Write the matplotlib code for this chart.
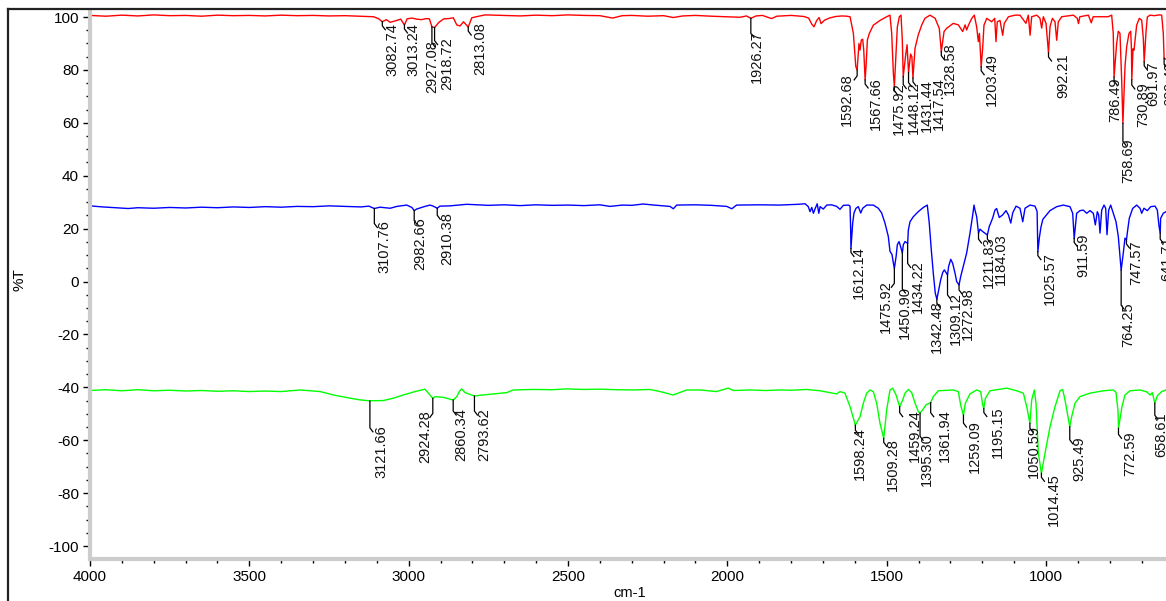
import numpy as np
import matplotlib
matplotlib.use("Agg")
import matplotlib.pyplot as plt
from matplotlib.ticker import MultipleLocator
from matplotlib.lines import Line2D

# ---------------- data ----------------
red_wn = [4000, 3950, 3900, 3850, 3800, 3750, 3700, 3650, 3600, 3550, 3500, 3450, 3400, 3350, 3300, 3250, 3200, 3150,
          3110, 3095, 3082.74, 3070, 3058, 3040, 3025, 3013.24, 3005, 2990, 2975, 2960, 2945, 2935, 2927.08, 2918.72,
          2905, 2890, 2875, 2860, 2849, 2839, 2828, 2813.08, 2802, 2780, 2760, 2700, 2650, 2600, 2550, 2500, 2450,
          2400, 2360, 2330, 2300, 2250, 2200, 2170, 2140, 2100, 2050, 2000, 1960, 1940, 1926.27, 1910, 1890, 1870,
          1861, 1845, 1800, 1760, 1745, 1735, 1728, 1720, 1712, 1706, 1695, 1680, 1660, 1640, 1625, 1615, 1604.5,
          1597, 1592.68, 1590, 1587, 1583.7, 1579.6, 1575.3, 1572, 1567.66, 1564.8, 1560.6, 1554.4, 1542, 1521, 1500,
          1489.6, 1484.3, 1479, 1475.92, 1471.8, 1466.6, 1460.3, 1455, 1451, 1448.12, 1440, 1436, 1431.44, 1425,
          1421, 1417.54, 1411, 1401, 1390, 1380, 1364, 1348, 1335, 1328.58, 1320, 1312, 1291, 1275, 1261.5, 1254,
          1249, 1243, 1233, 1225, 1217.6, 1212.4, 1209, 1203.49, 1198.8, 1194.7, 1186, 1170.6, 1161, 1157, 1153,
          1144.4, 1136, 1131, 1118, 1097, 1081.7, 1063, 1055.6, 1050, 1045, 1029, 1019, 1013.6, 1008.5, 1000,
          992.21, 987.5, 980, 971.8, 966.5, 961.4, 950.8, 914, 902, 898, 894, 867, 858, 852, 825, 805, 794, 789,
          786.49, 778.3, 773.2, 767.9, 762.6, 758.69, 752.2, 746.9, 739.6, 734.3, 731.8, 730.89, 727, 723.9, 715.6,
          707.2, 699.8, 694.7, 691.97, 686.2, 682.1, 673.7, 660, 645, 637, 632, 629.43, 623]
red_t = [100.6, 100.3, 100.7, 100.4, 100.8, 100.5, 100.6, 100.3, 100.7, 100.5, 100.6, 100.4, 100.7, 100.5, 100.6,
         100.4, 100.5, 100.3, 100.1, 99.4, 98.2, 99.0, 98.0, 98.6, 99.2, 97.0, 99.3, 99.6, 99.2, 99.0, 99.4, 99.3,
         96.3, 96.0, 98.0, 99.3, 99.4, 99.7, 97.0, 96.6, 98.2, 96.2, 99.7, 100.3, 100.8, 100.6, 100.4, 100.7, 100.5,
         100.8, 100.6, 100.5, 99.6, 100.5, 100.6, 100.3, 100.5, 99.8, 100.4, 100.6, 100.3, 100.1, 99.9, 100.4, 99.5,
         100.4, 100.6, 99.8, 99.4, 100.3, 100.6, 100.2, 99.6, 97.3, 96.3, 98.6, 99.8, 97.5, 98.8, 99.6, 100.2, 100.4,
         100.3, 100.1, 93.8, 81.3, 80.0, 85.0, 90.0, 87.5, 91.3, 91.6, 87.5, 76.2, 81.3, 91.3, 93.8, 96.9, 98.7,
         100.1, 100.7, 93.8, 78.7, 73.7, 83.7, 96.2, 100.1, 100.7, 91.3, 77.5, 86.0, 89.5, 79.0, 86.0, 85.0, 77.0,
         88.2, 93.2, 97.0, 99.5, 100.7, 99.5, 95.7, 86.9, 94.5, 95.7, 97.6, 97.0, 94.5, 97.0, 95.1, 97.0, 99.5,
         100.7, 96.2, 90.7, 93.8, 81.2, 88.2, 96.9, 99.5, 98.2, 99.5, 90.7, 98.2, 98.7, 93.1, 97.6, 100.1, 100.7,
         100.7, 97.6, 100.7, 93.1, 100.1, 100.7, 99.5, 95.8, 100.1, 97.6, 86.4, 96.3, 99.5, 98.2, 91.2, 98.2, 100.1,
         100.7, 99.5, 97.5, 100.1, 100.7, 97.8, 100.1, 100.1, 100.1, 100.7, 93.8, 77.3, 90.0, 94.6, 93.8, 76.2,
         59.8, 81.2, 88.8, 93.8, 94.6, 87.5, 76.2, 88.0, 87.5, 96.9, 99.5, 98.8, 91.9, 83.1, 94.4, 100.0, 100.7,
         100.5, 100.8, 100.7, 93.8, 84.4, 84.0]

blue_wn = [4000, 3960, 3920, 3880, 3850, 3800, 3750, 3700, 3650, 3600, 3550, 3500, 3450, 3400, 3350, 3300, 3250,
           3200, 3150, 3125, 3107.76, 3090, 3058, 3037, 3006, 2990, 2982.66, 2975, 2949, 2933, 2923, 2910.38, 2902,
           2870, 2818, 2750, 2700, 2650, 2600, 2550, 2500, 2450, 2400, 2368, 2330, 2300, 2264, 2230, 2180, 2169.5,
           2159, 2100, 2050, 2002, 1986, 1971, 1900, 1835, 1777, 1756, 1746, 1740.6, 1735, 1730, 1724, 1718, 1713,
           1709, 1699, 1688, 1673, 1657, 1646.5, 1636, 1620, 1615, 1613, 1612.14, 1608.8, 1606.7, 1602.6, 1596.3,
           1589, 1581.5, 1575.3, 1562.7, 1542, 1526.3, 1515.8, 1505.4, 1495, 1489.6, 1483.3, 1479, 1475.92, 1470.5,
           1466.6, 1461.3, 1458, 1450.9, 1447.8, 1442.5, 1434.22, 1432, 1426.8, 1416.4, 1401, 1385, 1372.6, 1366.4,
           1360, 1353.8, 1347.5, 1342.48, 1336.8, 1330.6, 1324.3, 1319, 1313.7, 1309.12, 1305.6, 1299, 1293, 1285.6,
           1280.4, 1272.98, 1267.7, 1259.6, 1249, 1238.6, 1230, 1226, 1222.9, 1217.6, 1211.83, 1207.2, 1198.8,
           1184.03, 1178.3, 1167.7, 1160.3, 1155, 1146.7, 1136, 1125.6, 1118, 1110.6, 1104.4, 1094, 1081.7, 1073,
           1065.9, 1050, 1034.6, 1028, 1025.57, 1021, 1016, 1010, 1003.3, 987.5, 966.5, 945.8, 924.8, 916.3, 911.59,
           908, 903.8, 893.4, 883, 872.4, 862, 851.6, 845.3, 839, 834.8, 830.6, 825.3, 818, 812.8, 808.6, 803.4,
           797.1, 788.8, 780.4, 773.2, 767.9, 764.25, 757.5, 752.2, 747.57, 745, 738.7, 728.2, 715.6, 705.1, 699.8,
           692.6, 682.1, 671.6, 658, 650.7, 645.5, 641.71, 640.3, 632, 623.5]
blue_t = [28.6, 28.2, 27.9, 27.6, 27.9, 27.7, 28.0, 27.8, 28.1, 27.9, 28.2, 28.0, 28.3, 28.1, 28.4, 28.3, 28.6,
          28.4, 28.2, 28.5, 27.6, 28.1, 27.7, 28.4, 28.9, 28.0, 26.8, 27.4, 28.4, 28.9, 28.5, 27.7, 28.5, 28.6, 29.2,
          28.8, 29.0, 28.7, 29.0, 28.8, 28.9, 28.7, 29.0, 28.4, 28.9, 28.8, 29.3, 28.9, 28.4, 27.5, 28.9, 29.0, 28.8,
          28.4, 27.5, 28.9, 29.0, 28.9, 29.2, 29.4, 28.3, 26.4, 28.0, 25.8, 27.7, 29.4, 25.8, 28.3, 27.4, 28.9, 29.0,
          28.4, 27.3, 28.8, 28.9, 28.5, 19.5, 12.5, 18.3, 22.1, 25.9, 27.7, 28.3, 25.9, 27.7, 28.9, 28.9, 27.7, 25.9,
          22.1, 17.1, 11.4, 10.2, 7.0, 5.0, 9.4, 13.9, 15.1, 13.9, 10.8, 13.9, 15.1, 14.4, 19.5, 22.6, 24.5, 26.4,
          28.0, 28.9, 22.1, 12.0, 3.2, -4.4, -6.7, -3.2, 0.6, 3.4, 4.4, 3.4, 2.5, 5.7, 8.4, 6.9, 3.2, 0.0, -1.3, 1.9,
          5.7, 10.8, 18.3, 25.2, 28.9, 27.0, 24.5, 18.3, 19.8, 18.9, 17.6, 20.7, 23.9, 27.0, 27.6, 24.2, 25.2, 26.8,
          25.2, 22.1, 26.0, 28.5, 27.7, 22.6, 27.7, 28.9, 28.5, 26.5, 11.3, 16.5, 20.5, 23.5, 24.5, 26.8, 28.3, 28.9,
          28.3, 25.8, 16.3, 20.7, 25.8, 26.8, 27.0, 25.8, 26.8, 25.8, 21.4, 26.4, 25.2, 18.3, 27.0, 28.9, 27.7, 17.7,
          27.0, 28.9, 25.8, 22.6, 17.1, 9.5, 4.3, 10.8, 16.4, 15.7, 18.3, 23.9, 27.6, 28.9, 27.7, 25.8, 27.7, 26.8,
          28.3, 28.5, 27.0, 21.0, 18.3, 23.9, 25.8, 26.4]

green_wn = [4000, 3950, 3900, 3850, 3800, 3750, 3700, 3650, 3600, 3550, 3500, 3450, 3400, 3341, 3278, 3236, 3184,
            3150, 3121.66, 3080, 3048, 3017, 2980, 2949, 2938, 2924.28, 2917, 2891, 2860.34, 2849, 2841, 2834, 2823,
            2793.62, 2776, 2735, 2692, 2672, 2609, 2550, 2504, 2450, 2400, 2350, 2295, 2243, 2211, 2170, 2128, 2086,
            2034, 1997, 1981, 1929, 1880, 1835, 1800, 1751, 1709, 1678, 1657, 1646.5, 1631, 1615, 1604.6, 1598.24,
            1583.7, 1573.3, 1562.7, 1552.4, 1542, 1531.4, 1521, 1509.28, 1500, 1489.6, 1481, 1470.6, 1459.24, 1449.7,
            1442.5, 1432, 1421.5, 1411, 1401, 1395.3, 1387, 1376.6, 1361.94, 1353.7, 1338, 1291, 1275.3, 1266.8,
            1259.09, 1253.3, 1238.6, 1217.6, 1205, 1198.8, 1195.15, 1190.5, 1175.8, 1123.4, 1092, 1071.2, 1060.6,
            1050.59, 1045, 1036.7, 1031.4, 1024, 1014.45, 1003.3, 987.5, 971.8, 956, 947.7, 939.5, 925.49, 919.5, 909,
            893.4, 862, 820, 789, 780.4, 774, 772.59, 761.6, 752.2, 736.5, 705, 684.2, 673.6, 666.3, 658.61, 650.7,
            637, 623.5]
green_t = [-41.2, -40.9, -41.3, -40.9, -41.3, -41.1, -41.4, -41.2, -41.5, -41.3, -41.6, -41.4, -41.6, -41.0, -41.6,
           -42.9, -44.1, -44.8, -45.1, -45.0, -44.1, -42.9, -41.6, -40.7, -42.2, -44.2, -43.5, -43.8, -44.8, -43.5,
           -41.6, -40.6, -42.0, -43.3, -43.0, -42.5, -42.0, -41.0, -40.8, -40.9, -40.6, -40.8, -40.7, -40.9, -41.0,
           -40.8, -41.6, -42.9, -41.0, -41.0, -41.6, -40.3, -41.2, -41.0, -41.2, -41.0, -41.1, -40.8, -41.3, -42.0,
           -42.5, -41.6, -42.2, -47.3, -51.7, -54.3, -51.1, -46.0, -42.2, -41.0, -41.6, -46.0, -53.6, -59.3, -48.5,
           -41.0, -40.3, -42.9, -47.3, -44.8, -42.2, -40.8, -42.0, -46.0, -49.1, -49.8, -48.5, -46.6, -45.8, -43.5,
           -41.3, -41.0, -41.6, -47.3, -50.5, -46.0, -42.5, -41.0, -41.6, -46.6, -48.0, -44.2, -41.3, -40.3, -41.3,
           -42.2, -47.3, -53.6, -44.8, -41.0, -46.0, -65.0, -72.5, -65.0, -54.9, -47.3, -41.3, -40.8, -45.4, -54.9,
           -51.1, -46.0, -43.5, -42.2, -41.3, -41.0, -41.9, -49.1, -55.5, -47.3, -42.9, -41.3, -41.0, -41.7, -42.9,
           -42.0, -46.0, -43.2, -41.6, -41.0]

red_peaks = [3082.74, 3013.24, 2927.08, 2918.72, 2813.08, 1926.27, 1592.68, 1567.66, 1475.92, 1448.12, 1431.44,
             1417.54, 1328.58, 1203.49, 992.21, 786.49, 758.69, 730.89, 691.97, 629.43]
blue_peaks = [3107.76, 2982.66, 2910.38, 1612.14, 1475.92, 1450.90, 1434.22, 1342.48, 1309.12, 1272.98, 1211.83,
              1184.03, 1025.57, 911.59, 764.25, 747.57, 641.71]
green_peaks = [3121.66, 2924.28, 2860.34, 2793.62, 1598.24, 1509.28, 1459.24, 1395.30, 1361.94, 1259.09, 1195.15,
               1050.59, 1014.45, 925.49, 772.59, 658.61]

x_ticks = [4000, 3500, 3000, 2500, 2000, 1500, 1000]
y_ticks = [100, 80, 60, 40, 20, 0, -20, -40, -60, -80, -100]

# ---------------- layout (label offsets in pixels: text centre dx, text top dy) ----------------
red_offsets = [(10, 1), (9, -2), (0, 13), (13, 10), (12, -5), (6, 12), (-10, 3), (11, -3), (5, -4), (11, 5),
               (18, 7), (26, -1), (9, -9), (11, -14), (15, 0), (1, 0), (5, 15), (11, 2), (9, 0), (6, 3)]
blue_offsets = [(10, 12), (6, 7), (10, 4), (8, -2), (-8, 12), (3, 33), (10, 17), (0, 1), (8, 17), (9, 2), (10, 3),
                (14, -2), (12, 0), (9, -5), (7, 32), (10, 0), (7, 3)]
green_offsets = [(12, 24), (-8, 12), (8, 8), (10, 12), (4, 2), (9, 0), (15, 3), (7, 20), (14, 7), (11, 5), (14, -2),
                 (4, 2), (12, 0), (10, 10), (12, 3), (6, 9)]

plt.rcParams['font.family'] = ['Liberation Sans', 'DejaVu Sans']
plt.rcParams['axes.unicode_minus'] = False

W, H = 1166, 601
fig = plt.figure(figsize=(W / 100, H / 100), dpi=100)
fig.patch.set_facecolor('white')
ax = fig.add_axes([90 / W, 1 - 559 / H, (1166 - 90) / W, (559 - 11) / H])
ax.set_xlim(4000, 623.5)
ax.set_ylim(-104.9, 102.27)

ax.plot(red_wn, red_t, color='#ff0000', lw=1.0)
ax.plot(blue_wn, blue_t, color='#0000ff', lw=1.0)
ax.plot(green_wn, green_t, color='#00ff00', lw=1.0)

for s in ['top', 'right']:
    ax.spines[s].set_visible(False)
for s in ['left', 'bottom']:
    ax.spines[s].set_color('#cccccc')
    ax.spines[s].set_linewidth(3)

ax.set_xticks(x_ticks)
ax.set_yticks(y_ticks)
ax.xaxis.set_minor_locator(MultipleLocator(100))
ax.yaxis.set_minor_locator(MultipleLocator(5))
ax.tick_params(which='major', direction='out', length=5, width=1, color='black', labelsize=11, pad=3)
ax.tick_params(which='minor', direction='out', length=3, width=1, color='black')

fig.text(20 / W, 1 - 280 / H, '%T', rotation=90, ha='center', va='center', fontsize=11)
fig.text(630 / W, 1 - 593 / H, 'cm-1', ha='center', va='center', fontsize=10.5)

# outer frame lines
fig.add_artist(Line2D([8 / W, 8 / W], [0, 1 - 9 / H], transform=fig.transFigure, color='#222222', lw=1.6))
fig.add_artist(Line2D([8 / W, 1], [1 - 9 / H, 1 - 9 / H], transform=fig.transFigure, color='#222222', lw=1.6))


def place_labels(wn, t, peaks, offsets):
    wa = np.array(wn)[::-1]
    ta = np.array(t)[::-1]
    for p, (dx, dy) in zip(peaks, offsets):
        yv = np.interp(p, wa, ta)
        dxp, dyp = ax.transData.transform((p, yv))
        ipx, ipy = dxp, H - dyp
        tx, ty = ipx + dx, ipy + dy
        y_end = max(ipy + 4, ty + 3)
        sgn = -1 if dx < 0 else 1
        xs = np.array([ipx, ipx, ipx + sgn * 3])
        ys = np.array([ipy, y_end, y_end + 4])
        fig.add_artist(Line2D(xs / W, 1 - ys / H, transform=fig.transFigure, color='black', lw=0.9))
        fig.text(tx / W, 1 - ty / H, f"{p:.2f}", rotation=90, ha='center', va='top', fontsize=10.5,
                 color='#111111')


place_labels(red_wn, red_t, red_peaks, red_offsets)
place_labels(blue_wn, blue_t, blue_peaks, blue_offsets)
place_labels(green_wn, green_t, green_peaks, green_offsets)

fig.savefig('out.png', dpi=100)
